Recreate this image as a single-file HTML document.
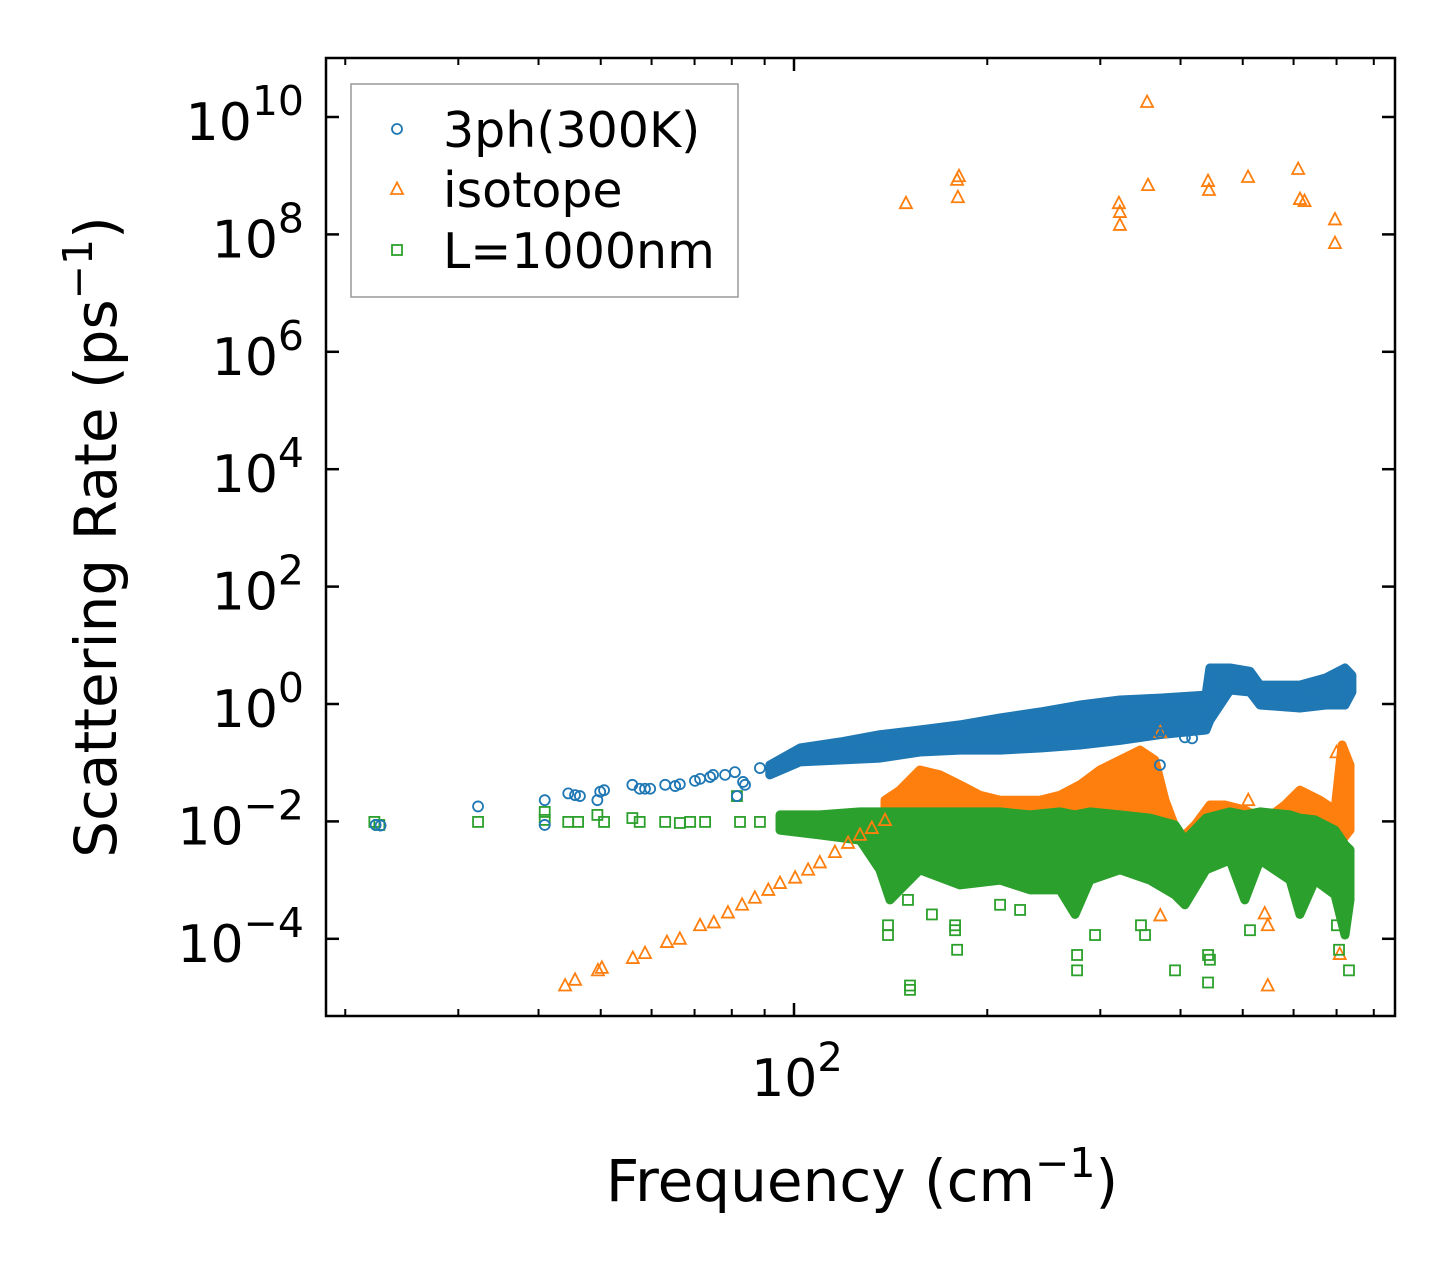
<!DOCTYPE html>
<html><head><meta charset="utf-8"><style>
html,body{margin:0;padding:0;background:#fff}
svg{display:block;font-family:"DejaVu Sans","Liberation Sans",sans-serif}
</style></head><body>
<svg id="chart" width="1455" height="1265" viewBox="0 0 1455 1265" xmlns="http://www.w3.org/2000/svg">
<rect x="0" y="0" width="1455" height="1265" fill="#fff"/>
<g id="bands"></g>
<g id="marks"></g>
<g id="axes"></g>
<rect x="326" y="58" width="1069" height="958" fill="none" stroke="#000" stroke-width="2.5"/>
<g>
<rect x="351" y="84" width="387" height="213" fill="#fff" fill-opacity="0.8" stroke="#999" stroke-width="1.5"/>
<g id="legendMarks"></g>
<text x="443" y="147" font-size="49">3ph(300K)</text>
<text x="443" y="207" font-size="49">isotope</text>
<text x="443" y="268" font-size="49">L=1000nm</text>
</g>
<text x="862" y="1201" font-size="58" text-anchor="middle">Frequency (cm<tspan dy="-24" font-size="41">−1</tspan><tspan dy="24">)</tspan></text>
<text transform="translate(116,537) rotate(-90)" font-size="58" text-anchor="middle">Scattering Rate (ps<tspan dy="-24" font-size="41">−1</tspan><tspan dy="24">)</tspan></text>
</svg>
<script>
// ---- data ----
const xTickMajor = [100];
const xTickMinor = [20,30,40,50,60,70,80,90,200,300,400,500,600,700,800];
const yTickExps = [-4,-2,0,2,4,6,8,10];

// 3ph sparse points
const phF = [22.3,22.7,32.2,40.9,40.9,44.5,45.6,46.4,49.4,49.9,50.6,56.0,57.5,58.6,59.7,63.0,65.3,66.4,70.1,71.4,74.0,74.8,78.1,80.9,81.5,83.3,83.9,88.5,371.5,371.5,406.4,417];
const phV = [0.0087,0.0085,0.018,0.023,0.0087,0.030,0.028,0.027,0.023,0.032,0.034,0.042,0.036,0.036,0.036,0.042,0.040,0.043,0.049,0.053,0.057,0.062,0.062,0.069,0.027,0.047,0.042,0.081,0.32,0.091,0.27,0.26];
// 3ph dense band
const phBandF = [91.7,102.2,118,136.1,157,181.3,209.4,241.7,278.9,322,371.5,438.3,444.5,477.6,513.2,531.9,613.8,674.3,721.5,739.6];
const phBandHi = [0.091,0.178,0.225,0.30,0.36,0.44,0.58,0.73,0.96,1.17,1.26,1.42,4.1,4.1,3.6,2.1,2.1,2.8,4.1,3.1];
const phBandLo = [0.062,0.103,0.111,0.12,0.152,0.164,0.164,0.178,0.20,0.24,0.30,0.36,0.53,1.73,1.6,0.96,0.855,0.96,0.96,1.6];

// isotope sparse points
const isoF = [44.0,45.6,49.5,50.2,56.1,58.6,63.4,66.4,71.4,75.0,78.9,83.0,86.9,91.2,95.1,100.4,105.2,109.7,115.8,121.4,126.7,132.2,138.6,
  149.4,179.5,180.7,180,320.7,321.8,321.8,354.8,356,441.5,443,509.6,610,614,624,696,696,
  372,510,547,372,541,547,708,700];
const isoV = [1.6e-5,2.0e-5,2.9e-5,3.2e-5,4.7e-5,5.7e-5,8.8e-5,1.0e-4,1.7e-4,1.9e-4,2.8e-4,3.8e-4,5.0e-4,6.8e-4,8.9e-4,1.1e-3,1.5e-3,2.0e-3,3.0e-3,4.3e-3,5.9e-3,7.7e-3,0.0105,
  3.4e8,8.5e8,9.8e8,4.3e8,3.4e8,2.4e8,1.45e8,1.8e10,6.9e8,8.1e8,5.7e8,9.5e8,1.3e9,4e8,3.7e8,1.8e8,7.1e7,
  0.33,0.023,1.6e-5,2.5e-4,2.7e-4,1.7e-4,5.5e-5,0.15];
// isotope dense band
const isoBandF = [138.6,146.2,157,168.8,181.3,194.8,209.4,225,241.7,259.6,278.9,299.6,322,345.9,364.8,378.3,399.1,421.5,444.5,469,503.8,541.5,581.9,613.8,659.4,696.2,714,734.5];
const isoBandHi = [0.023,0.034,0.075,0.062,0.042,0.028,0.023,0.023,0.023,0.028,0.042,0.075,0.111,0.164,0.111,0.023,0.0048,0.0087,0.019,0.019,0.0156,0.0106,0.019,0.034,0.023,0.0156,0.20,0.091];
const isoBandLo = [0.004,0.0022,0.0022,0.0027,0.0033,0.0033,0.004,0.004,0.0033,0.004,0.0033,0.0048,0.0048,0.0059,0.0071,0.0033,0.0015,0.0018,0.0022,0.0033,0.0033,0.0022,0.0033,0.004,0.0033,0.0027,0.0048,0.0071];

// boundary (L=1000nm) sparse points
const bF = [22.2,22.6,32.2,40.9,40.9,44.5,46.1,49.4,50.6,56,57.5,63,66.4,68.9,72.7,81.5,82.4,88.5,
  140.1,140.1,150.5,164,178.2,178.2,179.5,151.6,151.6,209.4,225,276,276,294.4,347.1,352.2,392.2,441.5,441.5,444.5,513.2,701,706.2,731.9];
const bV = [0.0098,0.0087,0.0098,0.0145,0.0106,0.0098,0.0098,0.0129,0.0098,0.0114,0.0098,0.0098,0.0094,0.0098,0.0098,0.027,0.0098,0.0098,
  1.7e-4,1.16e-4,4.6e-4,2.6e-4,1.7e-4,1.4e-4,6.5e-5,1.6e-5,1.35e-5,3.8e-4,3.1e-4,5.3e-5,2.9e-5,1.16e-4,1.7e-4,1.16e-4,2.9e-5,5.3e-5,1.8e-5,4.4e-5,1.4e-4,1.7e-4,6.5e-5,2.9e-5];
// boundary dense band
const bBandF = [95.1,109.7,126.7,136.1,141.1,157,181.3,209.4,233.2,259.6,274,289,322,358.4,392.2,406.4,438.3,477.6,503.8,531.9,592.6,613.8,648,696.2,721.5,734.5];
const bBandHi = [0.0129,0.0129,0.0145,0.0145,0.0145,0.0145,0.0145,0.0145,0.0129,0.0145,0.0129,0.0145,0.0129,0.0114,0.0087,0.0048,0.0114,0.0145,0.0129,0.0145,0.0129,0.0114,0.0106,0.0071,0.004,0.0033];
const bBandLo = [0.0071,0.0059,0.0048,0.0015,4.6e-4,0.0015,8.3e-4,0.001,6.8e-4,6.8e-4,2.6e-4,0.001,0.0015,0.001,5.6e-4,3.8e-4,0.0015,0.0022,4.6e-4,0.0022,0.001,2.6e-4,0.001,5.6e-4,1.16e-4,4.6e-4];

// ---- axes ----
const NS = "http://www.w3.org/2000/svg";
const X0 = 794, XPD = 642, Y0 = 704, YPD = 58.7;
function xs(f){ return X0 + XPD*Math.log10(f/100); }
function ys(v){ return Y0 - YPD*Math.log10(v); }
function mk(tag, attrs, parent){ const e=document.createElementNS(NS,tag); for(const k in attrs) e.setAttribute(k,attrs[k]); parent.appendChild(e); return e; }
const C1="#1f77b4", C2="#ff7f0e", C3="#2ca02c";
const axes=document.getElementById('axes'), bands=document.getElementById('bands'), marks=document.getElementById('marks');

xTickMajor.forEach(f=>{
  const x=xs(f);
  let t=mk('line',{x1:x,y1:1016,x2:x,y2:1003,stroke:'#000','stroke-width':2.5},axes);
  
  
  t=mk('line',{x1:x,y1:58,x2:x,y2:71,stroke:'#000','stroke-width':2.5},axes);
  
  
  const lb=mk('text',{x:x+3,y:1096,'font-size':52,'text-anchor':'middle'},axes);
  const base=mk('tspan',{},lb); base.textContent='10';
  const sp=mk('tspan',{dy:-25,'font-size':40},lb); sp.textContent=String(Math.round(Math.log10(f)));
  
  
});
xTickMinor.forEach(f=>{
  const x=xs(f);
  let t=mk('line',{x1:x,y1:1016,x2:x,y2:1009,stroke:'#000','stroke-width':2},axes);
  
  
  t=mk('line',{x1:x,y1:58,x2:x,y2:65,stroke:'#000','stroke-width':2},axes);
  
  
});
yTickExps.forEach(e=>{
  const y=ys(Math.pow(10,e));
  let t=mk('line',{x1:326,y1:y,x2:339,y2:y,stroke:'#000','stroke-width':2.5},axes);
  
  
  t=mk('line',{x1:1382,y1:y,x2:1395,y2:y,stroke:'#000','stroke-width':2.5},axes);
  
  
  const lb=mk('text',{x:304,y:y+23,'font-size':52,'text-anchor':'end'},axes);
  const base=mk('tspan',{},lb); base.textContent='10';
  const sp=mk('tspan',{dy:-25,'font-size':41},lb); sp.textContent=(e<0?'−':'')+Math.abs(e);
  
  
});

// ---- bands ----
function band(F,Hi,Lo,color,name){
  const pts=[];
  F.forEach((f,i)=>pts.push(xs(f).toFixed(1)+','+ys(Hi[i]).toFixed(1)));
  for(let i=F.length-1;i>=0;i--) pts.push(xs(F[i]).toFixed(1)+','+ys(Lo[i]).toFixed(1));
  const p=mk('polygon',{points:pts.join(' '),fill:color,stroke:color,'stroke-width':9,'stroke-linejoin':'round'},bands);
  
  
}
band(isoBandF,isoBandHi,isoBandLo,C2,'isotope-band');
band(bBandF,bBandHi,bBandLo,C3,'boundary-band');
band(phBandF,phBandHi,phBandLo,C1,'3ph-band');

// ---- markers ----
function circle(x,y,parent){ return mk('circle',{cx:x,cy:y,r:5,fill:'none',stroke:C1,'stroke-width':1.8},parent); }
function tri(x,y,parent){ return mk('polygon',{points:`${x},${y-6.5} ${x-6},${y+5} ${x+6},${y+5}`,fill:'none',stroke:C2,'stroke-width':1.8},parent); }
function sq(x,y,parent){ return mk('rect',{x:x-5,y:y-5,width:10,height:10,fill:'none',stroke:C3,'stroke-width':1.8},parent); }
isoF.forEach((f,i)=>{
  const m=tri(xs(f),ys(isoV[i]),marks);
  
  
});
bF.forEach((f,i)=>{
  const m=sq(xs(f),ys(bV[i]),marks);
  
  
});
phF.forEach((f,i)=>{
  const m=circle(xs(f),ys(phV[i]),marks);
  
  
});

// legend markers
const lg=document.getElementById('legendMarks');
let lm=circle(397,129,lg);


lm=tri(397,189,lg);


lm=sq(397,250,lg);


</script>
</body></html>
